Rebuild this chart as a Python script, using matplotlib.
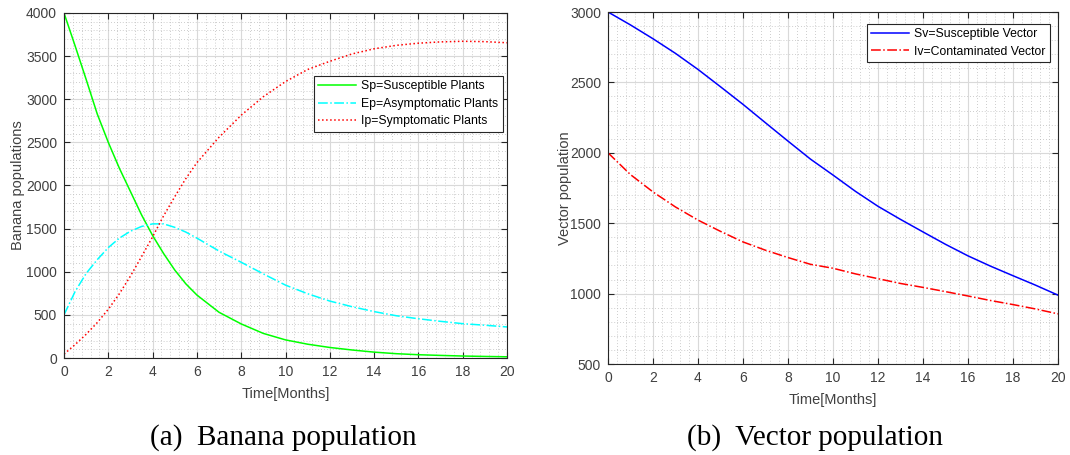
import matplotlib
matplotlib.use("Agg")
import matplotlib.pyplot as plt
from matplotlib.ticker import MultipleLocator

plt.rcParams['font.family'] = ['Liberation Sans', 'DejaVu Sans']

# (a) banana population
t_a = [0, 0.5, 1, 1.5, 2, 2.5, 3, 3.5, 4, 4.5, 5, 5.5, 6, 7, 8, 9, 10,
       11, 12, 13, 14, 15, 16, 17, 18, 19, 20]
Sp = [4000, 3620, 3230, 2830, 2500, 2200, 1930, 1660, 1420, 1210, 1020, 860,
      730, 530, 395, 285, 210, 160, 122, 93, 68, 50, 38, 30, 23, 18, 14]
Ep = [500, 770, 980, 1140, 1280, 1390, 1470, 1525, 1555, 1555, 1515, 1460,
      1390, 1240, 1110, 975, 845, 745, 660, 595, 538, 490, 455, 425, 398, 380, 360]
Ip = [45, 155, 275, 410, 565, 745, 950, 1175, 1405, 1650, 1870, 2080, 2265,
      2560, 2815, 3030, 3205, 3345, 3440, 3525, 3585, 3625, 3650, 3665, 3672,
      3668, 3655]

# (b) vector population
t_b = list(range(21))
Sv = [3000, 2908, 2810, 2706, 2592, 2469, 2344, 2213, 2083, 1955, 1842, 1726,
      1620, 1527, 1438, 1350, 1268, 1195, 1127, 1060, 989]
Iv = [2000, 1845, 1722, 1615, 1522, 1442, 1367, 1308, 1256, 1208, 1180, 1140,
      1106, 1072, 1044, 1014, 983, 951, 922, 891, 856]

tick_col = '#404040'

fig = plt.figure(figsize=(10.7, 4.55), dpi=100)
ax1 = fig.add_axes([64/1070, 1-358/455, 443/1070, 345/455])
ax2 = fig.add_axes([608/1070, 1-364/455, 450/1070, 352/455])


def style(ax, ylo, yhi):
    ax.set_xlim(0, 20)
    ax.set_ylim(ylo, yhi)
    ax.xaxis.set_major_locator(MultipleLocator(2))
    ax.xaxis.set_minor_locator(MultipleLocator(0.4))
    ax.yaxis.set_major_locator(MultipleLocator(500))
    ax.yaxis.set_minor_locator(MultipleLocator(100))
    ax.grid(True, which='major', color='#d9d9d9', lw=0.8, ls='-')
    ax.grid(True, which='minor', color='#bdbdbd', lw=0.6, ls=(0, (1, 2.5)))
    ax.set_axisbelow(True)
    ax.tick_params(which='major', direction='in', top=True, right=True,
                   length=4, width=0.8, color='#262626', labelsize=10,
                   labelcolor=tick_col, pad=5)
    ax.tick_params(which='minor', length=0)
    for s in ax.spines.values():
        s.set_color('#262626')
        s.set_linewidth(0.8)
    ax.set_xlabel('Time[Months]', fontsize=10.5, color=tick_col, labelpad=5.5)


ax1.plot(t_a, Sp, color='#00ff00', lw=1.1, ls='-', label='Sp=Susceptible Plants')
ax1.plot(t_a, Ep, color='#00ffff', lw=1.1, ls='-.', label='Ep=Asymptomatic Plants')
ax1.plot(t_a, Ip, color='#ff0000', lw=1.1, ls=':', label='Ip=Symptomatic Plants')
style(ax1, 0, 4000)
ax1.set_ylabel('Banana populations', fontsize=10.5, color=tick_col, labelpad=1)
leg = ax1.legend(loc='upper right', bbox_to_anchor=(0.99, 0.817), borderaxespad=0,
                 fontsize=8.8, handlelength=3.1, labelspacing=0.45,
                 fancybox=False, framealpha=1, edgecolor='#262626',
                 borderpad=0.35, handletextpad=0.4)
leg.get_frame().set_linewidth(0.8)

ax2.plot(t_b, Sv, color='#0000ff', lw=1.1, ls='-', label='Sv=Susceptible Vector')
ax2.plot(t_b, Iv, color='#ff0000', lw=1.1, ls='-.', label='Iv=Contaminated Vector')
style(ax2, 500, 3000)
ax2.set_ylabel('Vector population', fontsize=10.5, color=tick_col, labelpad=-1.5)
leg = ax2.legend(loc='upper right', bbox_to_anchor=(0.982, 0.966), borderaxespad=0,
                 fontsize=8.8, handlelength=3.1, labelspacing=0.45,
                 fancybox=False, framealpha=1, edgecolor='#262626',
                 borderpad=0.35, handletextpad=0.4)
leg.get_frame().set_linewidth(0.8)

fig.text(283/1070, 1-438/455, '(a)  Banana population', ha='center', va='center',
         fontsize=21, family='Liberation Serif', color='black')
fig.text(815/1070, 1-438/455, '(b)  Vector population', ha='center', va='center',
         fontsize=21, family='Liberation Serif', color='black')

fig.savefig('out.png', dpi=100, facecolor='white')
